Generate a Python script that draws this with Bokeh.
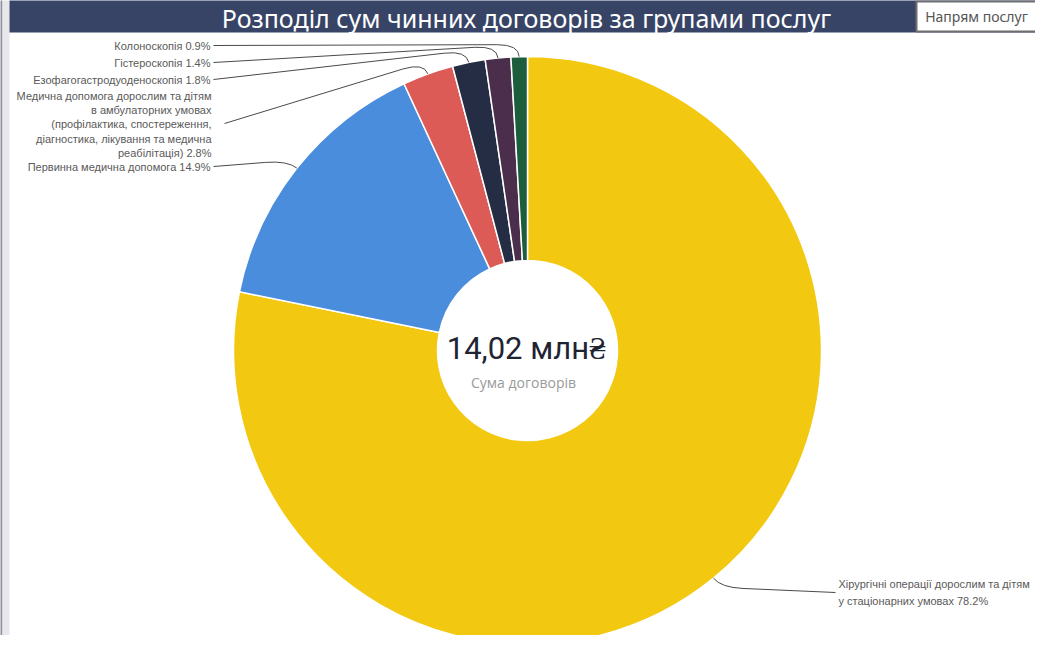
import numpy as np
from bokeh.plotting import figure
from bokeh.models import Range1d, ColumnDataSource
from bokeh.core.properties import value
from bokeh.embed import file_html
from bokeh.resources import INLINE

# ---------------- data ----------------
categories = [
    "Хірургічні операції дорослим та дітям\nу стаціонарних умовах",
    "Первинна медична допомога",
    "Медична допомога дорослим та дітям\nв амбулаторних умовах\n(профілактика, спостереження,\nдіагностика, лікування та медична\nреабілітація)",
    "Езофагогастродуоденоскопія",
    "Гістероскопія",
    "Колоноскопія",
]
shares = [78.2, 14.9, 2.8, 1.8, 1.4, 0.9]
colors = ["#F2C811", "#4A8DDC", "#DD5B57", "#252D45", "#4A2E4B", "#1C5E3C"]
total_label = "14,02 млн₴"
total_caption = "Сума договорів"
title_text = "Розподіл сум чинних договорів за групами послуг"
button_text = "Напрям послуг"

# ---------------- layout (screen px, y measured from top) ----------------
W, H = 1035, 635
def Y(y):
    return H - y

p = figure(width=W, height=H, x_range=Range1d(0, W), y_range=Range1d(0, H),
           output_backend="svg", toolbar_location=None, min_border=0)
p.axis.visible = False
p.grid.visible = False
p.outline_line_color = None
p.background_fill_color = "white"
p.border_fill_color = "white"

# left border strip
p.quad(left=[-5], right=[2], top=[Y(-5)], bottom=[Y(700)], fill_color="#8E8E9C", line_color=None)
p.quad(left=[2], right=[9], top=[Y(-5)], bottom=[Y(700)], fill_color="#E8E8EC", line_color=None)
# title bar
p.quad(left=[9], right=[1043], top=[Y(-10)], bottom=[Y(32)], fill_color="#374466", line_color=None)
p.text(x=[526], y=[Y(17)], text=[title_text], text_font=value("Noto Sans"), text_font_size="25px",
       text_color="white", text_align="center", text_baseline="middle")
# button
p.quad(left=[916], right=[1037], top=[Y(1)], bottom=[Y(31)], fill_color="white", line_color="#6E6E6E", line_width=2)
p.text(x=[976], y=[Y(16)], text=[button_text], text_font=value("Noto Sans"), text_font_size="14px",
       text_color="#555555", text_align="center", text_baseline="middle")
# right grey strip
p.quad(left=[1042], right=[1060], top=[Y(32)], bottom=[Y(660)], fill_color="#F2F2F2", line_color=None)

# donut
cx, cy, R, r = 527, Y(350), 294, 90
fr = np.array(shares) / sum(shares)
ends = np.cumsum(fr)
starts = ends - fr
src = ColumnDataSource(dict(
    start=np.pi / 2 - 2 * np.pi * starts,
    end=np.pi / 2 - 2 * np.pi * ends,
    color=colors,
))
p.annular_wedge(x=cx, y=cy, inner_radius=r, outer_radius=R, start_angle="start", end_angle="end",
                direction="clock", fill_color="color", line_color="white", line_width=1.5, source=src)

# center texts
p.text(x=[526], y=[Y(348)], text=[total_label], text_font=value("Roboto"), text_font_size="31px",
       text_color="#1F2433", text_align="center", text_baseline="middle")
p.text(x=[523], y=[Y(382)], text=[total_caption], text_font=value("Open Sans"), text_font_size="14px",
       text_color="#9A9A9A", text_align="center", text_baseline="middle")

# labels & leader lines
label_x = [838, 210, 211, 210, 210, 210]
label_y = [592, 166, 124, 79, 62, 45]
line_start_x = [835, 213, 224, 213, 213, 213]
line_start_y = [592, 166, 123, 79, 62, 45]
aligns = ["left", "right", "right", "right", "right", "right"]
line_heights = [1.35, 1.2, 1.2, 1.2, 1.2, 1.2]

mids = starts + fr / 2
for i, name in enumerate(categories):
    lab = f"{name} {shares[i]:.1f}%"
    p.text(x=[label_x[i]], y=[Y(label_y[i])], text=[lab], text_font=value("Liberation Sans"),
           text_font_size="11px", text_color="#5A5A5A", text_align=aligns[i], text_baseline="middle",
           text_line_height=line_heights[i])
    th = 2 * np.pi * mids[i]
    ux, uy = np.sin(th), np.cos(th)
    ex, ey = cx + R * ux, cy + R * uy
    kx, ky = ex + 12 * ux, ey + 12 * uy
    lx, ly = line_start_x[i], Y(line_start_y[i])
    dx, dy = kx - lx, ky - ly
    dl = np.hypot(dx, dy)
    mx, my = kx - 22 * dx / dl, ky - 22 * dy / dl
    p.segment(x0=[lx], y0=[ly], x1=[mx], y1=[my], line_color="#4A4A4A", line_width=1)
    p.quadratic(x0=[mx], y0=[my], x1=[ex], y1=[ey], cx=[kx], cy=[ky], line_color="#4A4A4A", line_width=1)

open("out.html", "w").write(file_html(p, INLINE))
